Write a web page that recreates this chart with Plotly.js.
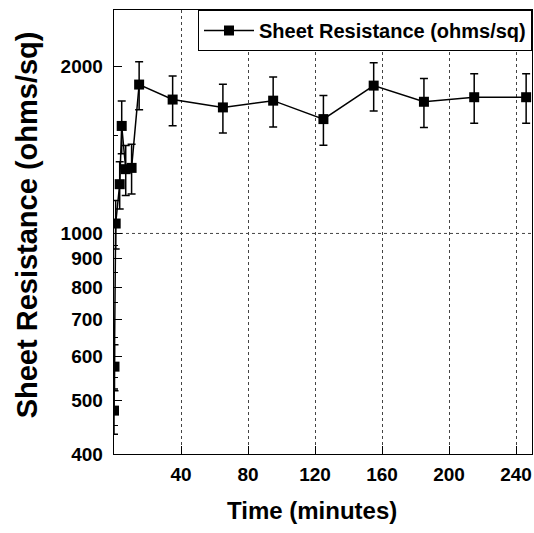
<!DOCTYPE html>
<html>
<head>
<meta charset="utf-8">
<script src="https://cdn.plot.ly/plotly-3.0.1.min.js"></script>
<style>html,body{margin:0;padding:0;background:#fff;}#chart{width:534px;height:533px;}</style>
</head>
<body>
<div id="chart"></div>
<script>
// Time in minutes
const timeMinutes = [0, 0.3, 1, 3.4, 4.6, 7, 10.5, 15, 35, 65, 95, 125, 155, 185, 215, 246];
// Sheet resistance (ohms/sq)
const sheetResistance = [479, 575, 1042, 1227, 1563, 1306, 1313, 1856, 1744, 1688, 1736, 1608, 1848, 1728, 1761, 1761];
// Error bar half-lengths (ohms/sq)
const resistanceError = [45, 55, 105, 120, 170, 135, 135, 185, 180, 170, 180, 165, 185, 175, 180, 180];
// Axis ticks
const xTickVals = [40, 80, 120, 160, 200, 240];
const yTickVals = [400, 500, 600, 700, 800, 900, 1000, 2000];
const yMinorVals = [450, 550, 650, 750, 850, 950, 1500];
const seriesName = 'Sheet Resistance (ohms/sq)';
const xTitle = 'Time (minutes)';
const yTitle = 'Sheet Resistance (ohms/sq)';

const FONT = 'Liberation Sans, Arial, Helvetica, sans-serif';

const trace = {
  x: timeMinutes,
  y: sheetResistance,
  type: 'scatter',
  mode: 'lines+markers',
  name: seriesName,
  showlegend: true,
  line: {color: '#000', width: 1.5},
  marker: {symbol: 'square', size: 10, color: '#000'},
  error_y: {type: 'data', array: resistanceError, visible: true, color: '#000', thickness: 1.5, width: 4}
};

const layout = {
  width: 534, height: 533,
  margin: {l: 114, r: 2, t: 10, b: 79},
  paper_bgcolor: '#fff', plot_bgcolor: '#fff',
  font: {family: FONT, color: '#000'},
  showlegend: true,
  legend: {
    x: 1, y: 1, xanchor: 'right', yanchor: 'top',
    bordercolor: '#000', borderwidth: 1, bgcolor: '#fff',
    itemwidth: 50,
    font: {family: FONT, size: 20, weight: 'bold', color: '#000'}
  },
  xaxis: {
    range: [0, 249.5],
    tickmode: 'array', tickvals: xTickVals, ticktext: xTickVals.map(String),
    ticks: 'inside', ticklen: 8, tickwidth: 1, tickcolor: '#000',
    showline: true, linecolor: '#000', linewidth: 1.3, mirror: true,
    showgrid: true, gridcolor: '#444', griddash: 'dot', gridwidth: 1,
    zeroline: false,
    tickfont: {family: FONT, size: 19, weight: 'bold'},
    ticklabelstandoff: 3
  },
  yaxis: {
    type: 'log',
    range: [Math.log10(400), Math.log10(2530)],
    tickmode: 'array', tickvals: yTickVals, ticktext: yTickVals.map(String),
    ticks: 'inside', ticklen: 8, tickwidth: 1, tickcolor: '#000',
    minor: {tickmode: 'array', tickvals: yMinorVals, ticks: 'inside', ticklen: 4, tickcolor: '#000', showgrid: false},
    showline: true, linecolor: '#000', linewidth: 1.3, mirror: true,
    showgrid: false, zeroline: false,
    tickfont: {family: FONT, size: 19, weight: 'bold'},
    ticklabelstandoff: 6
  },
  annotations: [
    {text: xTitle, xref: 'paper', yref: 'paper', x: 0.474, y: 0, yshift: -72, xanchor: 'center', yanchor: 'bottom',
     showarrow: false, font: {family: FONT, size: 24, weight: 'bold'}},
    {text: yTitle, xref: 'paper', yref: 'paper', x: 0, xshift: -87, y: 0.515, xanchor: 'center', yanchor: 'middle',
     textangle: -90, showarrow: false, font: {family: FONT, size: 29, weight: 'bold'}}
  ],
  shapes: [{
    type: 'line', xref: 'paper', yref: 'y', x0: 0, x1: 1, y0: 1000, y1: 1000,
    line: {color: '#444', width: 1, dash: 'dot'}, layer: 'below'
  }]
};

Plotly.newPlot('chart', [trace], layout, {displayModeBar: false, staticPlot: true});
</script>
</body>
</html>
